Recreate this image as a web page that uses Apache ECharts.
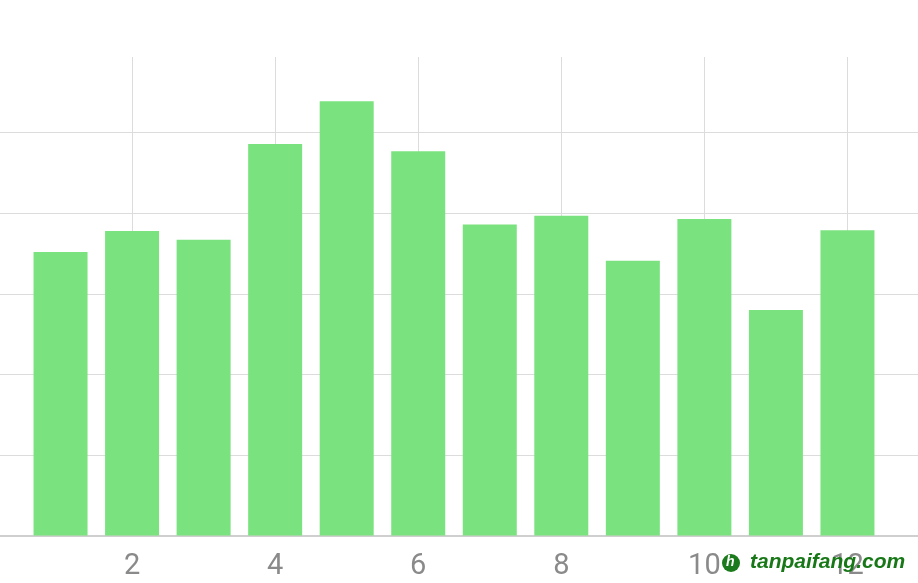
<!DOCTYPE html>
<html>
<head>
<meta charset="utf-8">
<script src="https://cdn.jsdelivr.net/npm/echarts@6/dist/echarts.min.js"></script>
<style>
html,body{margin:0;padding:0;background:#fff;overflow:hidden;width:918px;height:583px;position:relative;}
#chart{position:absolute;left:-11px;top:0;width:930px;height:583px;}
</style>
</head>
<body>
<div id="chart"></div>
<script>
const months = [1, 2, 3, 4, 5, 6, 7, 8, 9, 10, 11, 12];
const values = [3.52, 3.78, 3.67, 4.86, 5.39, 4.77, 3.86, 3.97, 3.41, 3.93, 2.80, 3.79];
const xTicks = [2, 4, 6, 8, 10, 12];
const watermark = 'tanpaifang.com';

const chart = echarts.init(document.getElementById('chart'));
const data = months.map((m, i) => [m, values[i]]);
const OFF = 11; // chart canvas is shifted 11px left of the page

chart.setOption({
  animation: false,
  backgroundColor: '#ffffff',
  grid: { left: 0, right: 0, top: 57, bottom: 47.5, containLabel: false },
  xAxis: {
    type: 'value',
    min: 0,
    max: 13,
    interval: 2,
    axisLine: { show: true, lineStyle: { color: '#cfcfcf', width: 2 } },
    axisTick: { show: false },
    axisLabel: {
      show: true,
      color: '#8a8a8a',
      fontSize: 29,
      fontFamily: 'Roboto',
      margin: 17,
      showMinLabel: false,
      showMaxLabel: false,
      formatter: v => (xTicks.indexOf(v) >= 0 ? String(v) : '')
    },
    splitLine: { show: true, lineStyle: { color: '#dcdcdc', width: 1 } }
  },
  yAxis: {
    type: 'value',
    min: 0,
    max: 5.94,
    interval: 1,
    axisLine: { show: false },
    axisTick: { show: false },
    axisLabel: { show: false },
    splitLine: {
      show: true,
      lineStyle: {
        color: ['#dcdcdc', '#dcdcdc', '#dcdcdc', '#dcdcdc', '#dcdcdc', '#dcdcdc', 'rgba(0,0,0,0)'],
        width: 1
      }
    }
  },
  series: [{
    type: 'bar',
    data: data,
    barWidth: 54,
    itemStyle: { color: '#7ae37f' }
  }],
  graphic: [
    {
      type: 'circle',
      shape: { cx: 731 + OFF, cy: 563, r: 9 },
      style: { fill: '#1b7a1b' },
      z: 100
    },
    {
      type: 'text',
      left: 726 + OFF, top: 555,
      style: { text: 'h', fill: '#ffffff', font: 'bold italic 14px "Liberation Sans"' },
      z: 101
    },
    {
      type: 'text',
      left: 750 + OFF, top: 552,
      style: {
        text: watermark,
        fill: '#187818',
        font: 'bold italic 21px "Liberation Sans"'
      },
      z: 100
    }
  ]
});
</script>
</body>
</html>
